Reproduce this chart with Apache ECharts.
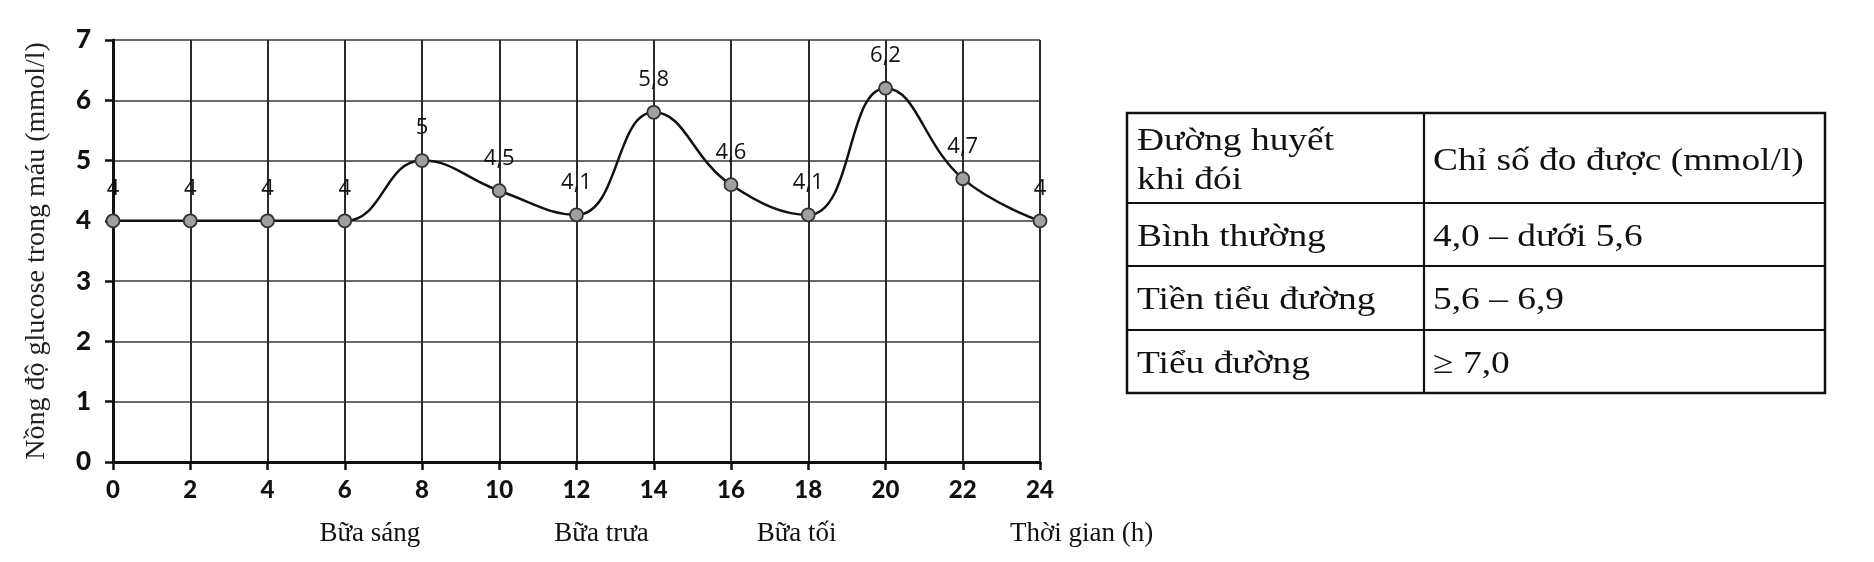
<!DOCTYPE html>
<html>
<head>
<meta charset="utf-8">
<script src="https://cdn.jsdelivr.net/npm/echarts@6/dist/echarts.min.js"></script>
<style>
html,body{margin:0;padding:0;background:#fff;}
#chart{width:1874px;height:562px;}
</style>
</head>
<body>
<div id="chart"></div>
<script>
// ---- data ----
const hours = [0, 2, 4, 6, 8, 10, 12, 14, 16, 18, 20, 22, 24];
const glucose = [4, 4, 4, 4, 5, 4.5, 4.1, 5.8, 4.6, 4.1, 6.2, 4.7, 4];
const mealPositions = [6.65, 12.65, 17.7];
const mealLabels = ['Bữa sáng', 'Bữa trưa', 'Bữa tối'];
const yAxisTitle = 'Nồng độ glucose trong máu (mmol/l)';
const xAxisTitle = 'Thời gian (h)';
const tableHeader = ['Đường huyết\nkhi đói', 'Chỉ số đo được (mmol/l)'];
const tableLevels = ['Bình thường', 'Tiền tiểu đường', 'Tiểu đường'];
const tableRanges = ['4,0 – dưới 5,6', '5,6 – 6,9', '≥ 7,0'];

// ---- layout ----
const tbl = {left: 1127, top: 113, right: 1825, bottom: 393, colX: 1424, rowY: [113, 203, 266, 330, 393]};
const serif = '"Liberation Serif", "Times New Roman", serif';
const sans = 'Lato, "Liberation Sans", sans-serif';

const chart = echarts.init(document.getElementById('chart'));

const graphics = [];
graphics.push({type: 'rect', shape: {x: tbl.left, y: tbl.top, width: tbl.right - tbl.left, height: tbl.bottom - tbl.top},
  style: {fill: 'none', stroke: '#111', lineWidth: 2.5}});
graphics.push({type: 'line', shape: {x1: tbl.colX, y1: tbl.top, x2: tbl.colX, y2: tbl.bottom}, style: {stroke: '#111', lineWidth: 2.2}});
for (let i = 1; i < tbl.rowY.length - 1; i++) {
  graphics.push({type: 'line', shape: {x1: tbl.left, y1: tbl.rowY[i], x2: tbl.right, y2: tbl.rowY[i]}, style: {stroke: '#111', lineWidth: 2.2}});
}
function cellText(text, x, y) {
  return {type: 'text', x: x, y: y, scaleX: 1.17,
    style: {text: text, fill: '#111', font: '32px ' + serif, textAlign: 'left', textVerticalAlign: 'middle', lineHeight: 39}};
}
const textPadX = 10;
graphics.push(cellText(tableHeader[0], tbl.left + textPadX, (tbl.rowY[0] + tbl.rowY[1]) / 2 + 3));
graphics.push(cellText(tableHeader[1], tbl.colX + 9, (tbl.rowY[0] + tbl.rowY[1]) / 2 + 4));
for (let i = 0; i < tableLevels.length; i++) {
  const cy = (tbl.rowY[i + 1] + tbl.rowY[i + 2]) / 2 + 3;
  graphics.push(cellText(tableLevels[i], tbl.left + textPadX, cy));
  graphics.push(cellText(tableRanges[i], tbl.colX + 9, cy));
}

const option = {
  backgroundColor: '#fff',
  animation: false,
  grid: {left: 113, right: 834, top: 40, bottom: 100, containLabel: false},
  xAxis: [{
    type: 'value', min: 0, max: 24, interval: 2,
    axisLine: {show: true, onZero: false, lineStyle: {color: '#111', width: 3}},
    axisTick: {show: true, length: 8, lineStyle: {color: '#111', width: 2.5}},
    axisLabel: {color: '#111', fontFamily: sans, fontWeight: 900, fontSize: 24, margin: 16},
    splitLine: {show: true, lineStyle: {color: '#2a2a2a', width: 2}}
  }, {
    type: 'value', min: 0, max: 24, position: 'bottom', offset: 72,
    axisLine: {show: false}, axisTick: {show: false}, splitLine: {show: false},
    axisLabel: {
      customValues: mealPositions,
      formatter: function (v) {
        const i = mealPositions.indexOf(v);
        return i >= 0 ? mealLabels[i] : '';
      },
      color: '#111', fontFamily: serif, fontSize: 27, margin: 0, verticalAlign: 'middle'
    }
  }],
  yAxis: {
    type: 'value', min: 0, max: 7, interval: 1,
    name: yAxisTitle, nameLocation: 'middle', nameRotate: 90, nameGap: 62,
    nameTextStyle: {color: '#222', fontFamily: serif, fontSize: 28},
    axisLine: {show: true, onZero: false, lineStyle: {color: '#111', width: 3}},
    axisTick: {show: true, length: 8, lineStyle: {color: '#111', width: 2.5}},
    axisLabel: {color: '#111', fontFamily: sans, fontWeight: 900, fontSize: 26, margin: 22},
    splitLine: {show: true, lineStyle: {color: '#6a6a6a', width: 2}}
  },
  series: [{
    type: 'line', xAxisIndex: 0,
    data: hours.map((h, i) => [h, glucose[i]]),
    smooth: 0.45,
    symbol: 'circle', symbolSize: 13,
    lineStyle: {color: '#111', width: 2.5},
    itemStyle: {color: '#a0a0a0', borderColor: '#333', borderWidth: 1.8},
    label: {
      show: true, position: 'top', distance: 14,
      formatter: p => String(p.value[1]).replace('.', ','),
      color: '#111', fontFamily: '"Open Sans", "Liberation Sans", sans-serif', fontSize: 22
    },
    z: 5
  }],
  graphic: graphics
};
chart.setOption(option);

// x-axis title, placed through the axis scale, on the meal-label row
const endX = chart.convertToPixel({xAxisIndex: 0}, hours[hours.length - 1]);
const zeroY = chart.convertToPixel({yAxisIndex: 0}, 0);
chart.setOption({
  graphic: graphics.concat([{
    type: 'text', x: endX - 30, y: zeroY + 72,
    style: {text: xAxisTitle, fill: '#111', font: '27px ' + serif, textAlign: 'left', textVerticalAlign: 'middle'}
  }])
});
</script>
</body>
</html>
